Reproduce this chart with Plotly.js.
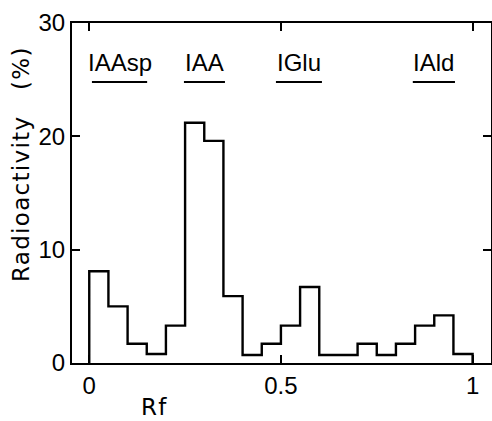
<!DOCTYPE html>
<html>
<head>
<meta charset="utf-8">
<script src="https://cdn.plot.ly/plotly-3.0.1.min.js"></script>
<style>html,body{margin:0;padding:0;background:#fff;}#chart{width:492px;height:421px;}</style>
</head>
<body>
<div id="chart"></div>
<script>
// Rf bin starts (bin width 0.05) and radioactivity (%) per bin
const binWidth = 0.05;
const rfBinStart = [0, 0.05, 0.10, 0.15, 0.20, 0.25, 0.30, 0.35, 0.40, 0.45,
                    0.50, 0.55, 0.60, 0.65, 0.70, 0.75, 0.80, 0.85, 0.90, 0.95];
const radioactivity = [8.1, 5.0, 1.7, 0.8, 3.3, 21.2, 19.6, 5.9, 0.7, 1.7,
                       3.3, 6.7, 0.7, 0.7, 1.7, 0.7, 1.7, 3.3, 4.2, 0.8];
// reference compounds and their Rf ranges (underlines)
const compounds = ['IAAsp', 'IAA', 'IGlu', 'IAld'];
const compoundRfStart = [0.007, 0.247, 0.487, 0.844];
const compoundRfEnd = [0.151, 0.354, 0.607, 0.954];
const xTicks = [0, 0.5, 1];
const xTickText = ['0', '0.5', '1'];
const yTicks = [0, 10, 20, 30];

// build step outline: start at baseline, end at baseline
const stepX = [rfBinStart[0]];
const stepY = [0];
for (let i = 0; i < rfBinStart.length; i++) {
  stepX.push(rfBinStart[i]);
  stepY.push(radioactivity[i]);
}
stepX.push(rfBinStart[rfBinStart.length - 1] + binWidth);
stepY.push(0);

const underlineLevel = 24.8;
const ulX = [], ulY = [];
for (let i = 0; i < compounds.length; i++) {
  ulX.push(compoundRfStart[i], compoundRfEnd[i], null);
  ulY.push(underlineLevel, underlineLevel, null);
}

const traces = [
  {x: stepX, y: stepY, type: 'scatter', mode: 'lines',
   line: {shape: 'hv', color: '#000', width: 2.4}, hoverinfo: 'skip'},
  {x: ulX, y: ulY, type: 'scatter', mode: 'lines',
   line: {color: '#000', width: 2}, hoverinfo: 'skip'}
];

const labelFont = {family: 'Liberation Sans, Arial, sans-serif', size: 24, color: '#000'};
const titleFont = {family: 'DejaVu Sans, sans-serif', size: 23, color: '#000'};
const annotations = compounds.map((c, i) => ({
  x: (compoundRfStart[i] + compoundRfEnd[i]) / 2, y: 26.5,
  xref: 'x', yref: 'y', text: c, showarrow: false,
  xanchor: 'center', yanchor: 'middle', font: labelFont
}));
annotations.push({
  x: 21, y: 199, xref: 'paper', yref: 'paper', text: '<span style="letter-spacing:1.3px">Radioactivity</span>',
  showarrow: false, textangle: -90, xanchor: 'center', yanchor: 'middle', font: titleFont
});
annotations.push({
  x: 21, y: 68, xref: 'paper', yref: 'paper', text: '<span style="letter-spacing:1.3px">(%)</span>',
  showarrow: false, textangle: -90, xanchor: 'center', yanchor: 'middle', font: titleFont
});
annotations.push({
  x: 154, y: 421, xref: 'paper', yref: 'paper', text: '<span style="letter-spacing:1.3px">Rf</span>',
  showarrow: false, xanchor: 'center', yanchor: 'bottom', borderpad: 0, font: titleFont
});

const W = 492, H = 421;
const M = {l: 72, r: 1, t: 23, b: 58};
// convert pixel positions for paper-referenced titles
annotations.forEach(a => {
  if (a.xref === 'paper') {
    a.x = (a.x - M.l) / (W - M.l - M.r);
    a.y = 1 - (a.y - M.t) / (H - M.t - M.b);
  }
});

const axisCommon = {
  showline: true, linecolor: '#000', linewidth: 2, mirror: 'ticks',
  ticks: 'inside', ticklen: 8, tickwidth: 2, tickcolor: '#000',
  showgrid: false, zeroline: false, tickfont: labelFont, fixedrange: true
};

const layout = {
  width: W, height: H, margin: M,
  paper_bgcolor: '#fff', plot_bgcolor: '#fff', showlegend: false,
  xaxis: Object.assign({}, axisCommon, {range: [-0.045, 1.048], tickmode: 'array',
    tickvals: xTicks, ticktext: xTickText}),
  yaxis: Object.assign({}, axisCommon, {range: [0, 30], tickmode: 'array', tickvals: yTicks}),
  annotations: annotations
};

Plotly.newPlot('chart', traces, layout, {staticPlot: true, displayModeBar: false});
</script>
</body>
</html>
